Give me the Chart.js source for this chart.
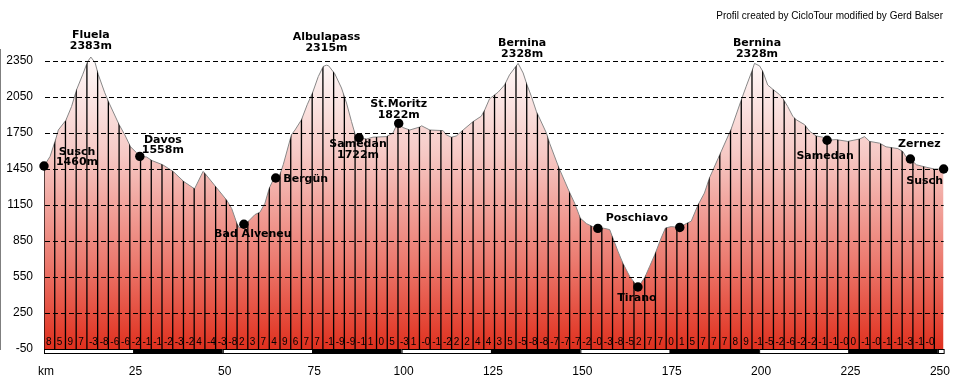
<!DOCTYPE html>
<html>
<head>
<meta charset="utf-8">
<script src="https://cdn.jsdelivr.net/npm/chart.js@4.4.1/dist/chart.umd.min.js"></script>
<style>
html, body { margin: 0; padding: 0; background: #fff; }
canvas { display: block; }
</style>
</head>
<body>
<canvas id="profile" width="955" height="375"></canvas>
<script>
// route profile (km, m)
const profileKm = [0, 1.7, 3.3, 4.0, 6.1, 7.7, 9.1, 10.8, 12.2, 13.1, 14.3, 15.2, 17.0, 18.2, 21.0, 22.6, 24.2, 25.9, 26.8, 28.7,
  30.2, 33.2, 36.1, 39.1, 42.1, 44.5, 45.1, 48.1, 51.1, 52.5, 53.9, 54.6, 55.3, 55.9, 57.1, 59.0, 60.4, 61.8, 63.0, 64.1,
  64.8, 66.0, 66.9, 69.2, 70.2, 72.0, 73.6, 75.1, 76.7, 78.1, 79.0, 79.6, 81.3, 83.2, 84.6, 86.0, 87.2, 88.1, 90.2, 92.0,
  95.8, 97.6, 98.6, 99.2, 100.4, 102.3, 105.1, 105.6, 107.9, 111.6, 112.5, 113.9, 115.3, 117.2, 120.0, 122.3, 123.3, 124.6, 127.0, 128.8,
  130.2, 131.2, 132.6, 134.0, 135.1, 136.3, 137.7, 140.5, 141.4, 144.0, 147.0, 148.4, 150.0, 151.7, 153.4, 154.9, 156.3, 158.2, 159.1, 160.5,
  161.9, 163.8, 165.2, 166.1, 166.6, 168.0, 169.4, 170.8, 172.6, 173.8, 175.4, 177.8, 179.6, 181.0, 182.9, 184.7, 186.1, 189.0, 192.2, 195.0,
  196.4, 198.1, 198.7, 200.1, 201.0, 202.4, 203.8, 205.7, 206.6, 208.0, 209.4, 210.4, 212.7, 214.1, 216.0, 217.8, 219.0, 221.5, 224.8, 228.1,
  229.5, 230.9, 233.7, 235.5, 238.8, 240.2, 241.1, 242.3, 244.0, 246.7, 249.0, 251.6];
const profileElev = [1475, 1555, 1700, 1775, 1855, 1970, 2110, 2235, 2345, 2383, 2335, 2235, 2085, 2000, 1820, 1735, 1635, 1585, 1555, 1550,
  1520, 1485, 1430, 1345, 1285, 1430, 1410, 1300, 1190, 1120, 1000, 960, 965, 990, 1013, 1070, 1090, 1165, 1290, 1360,
  1375, 1405, 1485, 1735, 1775, 1860, 1985, 2085, 2220, 2305, 2315, 2310, 2245, 2125, 2000, 1845, 1720, 1710, 1700, 1715,
  1720, 1750, 1815, 1830, 1795, 1775, 1800, 1810, 1775, 1770, 1735, 1715, 1725, 1775, 1845, 1890, 1945, 2035, 2090, 2150,
  2235, 2275, 2330, 2250, 2150, 2055, 1930, 1750, 1665, 1460, 1255, 1165, 1040, 995, 970, 955, 958, 945, 875, 765,
  665, 555, 500, 467, 485, 545, 640, 735, 875, 958, 970, 963, 995, 1015, 1150, 1250, 1375, 1570, 1785, 2025,
  2140, 2275, 2330, 2310, 2265, 2150, 2115, 2070, 2040, 1970, 1890, 1860, 1820, 1765, 1725, 1715, 1690, 1695, 1680, 1700,
  1720, 1680, 1665, 1635, 1620, 1595, 1550, 1533, 1485, 1465, 1450, 1450];

// towns with a dot
const placeLabels = [['Susch', '1460m'], ['Davos', '1558m'], ['Bad Alveneu'], ['Bergün'], ['Samedan', '1722m'], ['St.Moritz', '1822m'],
  ['Poschiavo'], ['Tirano'], [], ['Samedan'], ['Zernez'], ['Susch']];
const placeKm = [0, 26.8, 55.9, 64.8, 88.1, 99.2, 154.9, 166.1, 177.8, 219.0, 242.3, 251.6];
const placeElev = [1475, 1555, 990, 1375, 1710, 1830, 955, 467, 963, 1690, 1533, 1450];

// passes
const peakLabels = [['Fluela', '2383m'], ['Albulapass', '2315m'], ['Bernina', '2328m'], ['Bernina', '2328m']];
const peakKm = [13.1, 79.0, 132.6, 198.7];
const peakElev = [2383, 2315, 2330, 2330];

// gradient % per 3 km segment
const segKm = 3;
const gradeLabels = ['8', '5', '9', '7', '-3', '-8', '-6', '-6', '-2', '-1', '-1', '-2', '-3', '-2', '4', '-4', '-3', '-8', '2', '3',
  '7', '4', '9', '6', '7', '7', '-1', '-9', '-9', '-1', '1', '0', '5', '-3', '1', '-0', '-1', '-2', '2', '2',
  '4', '4', '3', '5', '-5', '-8', '-8', '-7', '-7', '-7', '-2', '-0', '-3', '-8', '-5', '2', '7', '7', '0', '1',
  '5', '7', '7', '7', '8', '9', '-1', '-5', '-2', '-6', '-2', '-2', '-1', '-1', '-0', '0', '-1', '-0', '-1', '-1',
  '-3', '-1', '-0'];

const yTicks = [-50, 250, 550, 850, 1150, 1450, 1750, 2050, 2350];
const xTicks = [0, 25, 50, 75, 100, 125, 150, 175, 200, 225, 250];

// label placement (px, relative to dot / summit)
const placeOffsets = [[33, -14], [23, -16.5], [9, 9.5], [30, 1], [-1, 6.5], [0, -19], [39, -10], [-1, 11], [0, 0], [-2, 16], [9, -15], [-19, 12]];
const peakOffsets = [[0, -22], [0, -28.5], [4, -20.7], [2.5, -20.7]];

const lastKm = profileKm[profileKm.length - 1];
const tickFont = { family: '"Liberation Sans", Arial, sans-serif', size: 12 };

const decor = {
  id: 'decor',
  afterDatasetDraw(chart, args) {
    if (args.index !== 0) return;
    const { ctx, chartArea, scales: { x, y } } = chart;
    const pts = args.meta.data;
    const base = y.getPixelForValue(yTicks[0]);
    // vertical segment lines, clipped to the profile
    ctx.save();
    ctx.beginPath();
    ctx.moveTo(pts[0].x, base);
    pts.forEach(p => ctx.lineTo(p.x, p.y));
    ctx.lineTo(pts[pts.length - 1].x, base);
    ctx.closePath();
    ctx.clip();
    ctx.strokeStyle = '#000';
    ctx.lineWidth = 1.3;
    for (let k = 0; k * segKm < lastKm; k++) {
      const px = x.getPixelForValue(k * segKm);
      ctx.beginPath();
      ctx.moveTo(px, base);
      ctx.lineTo(px, chartArea.top);
      ctx.stroke();
    }
    ctx.restore();
    ctx.save();
    ctx.font = '10px "Liberation Sans", Arial, sans-serif';
    ctx.fillStyle = '#000';
    ctx.textAlign = 'left';
    ctx.textBaseline = 'middle';
    gradeLabels.forEach((g, k) => ctx.fillText(g, x.getPixelForValue(k * segKm) + 2, base - 7));
    ctx.restore();
  },
  afterDraw(chart) {
    const { ctx, chartArea, scales: { x, y } } = chart;
    ctx.save();
    // km bar
    const b = chartArea.bottom;
    ctx.strokeStyle = '#000';
    ctx.lineWidth = 1;
    for (let i = 0; xTicks[i] < lastKm; i++) {
      const x0 = x.getPixelForValue(xTicks[i]);
      const x1 = x.getPixelForValue(Math.min(xTicks[i] + 25, lastKm));
      ctx.fillStyle = i % 2 ? '#000' : '#fff';
      ctx.fillRect(x0, b, x1 - x0, 4);
      ctx.strokeRect(x0 + 0.5, b + 0.5, x1 - x0, 4);
    }
    ctx.fillStyle = '#000';
    ctx.font = 'bold 11px "DejaVu Sans", sans-serif';
    ctx.textAlign = 'center';
    ctx.textBaseline = 'middle';
    placeLabels.forEach((lines, i) => {
      const px = x.getPixelForValue(placeKm[i]) + placeOffsets[i][0];
      const py = y.getPixelForValue(placeElev[i]) + placeOffsets[i][1];
      lines.forEach((t, j) => ctx.fillText(t, px, py + j * 10.5));
    });
    peakLabels.forEach((lines, i) => {
      const px = x.getPixelForValue(peakKm[i]) + peakOffsets[i][0];
      const py = y.getPixelForValue(peakElev[i]) + peakOffsets[i][1];
      lines.forEach((t, j) => ctx.fillText(t, px, py + j * 11));
    });
    ctx.font = '10px "Liberation Sans", Arial, sans-serif';
    ctx.textAlign = 'right';
    ctx.fillText('Profil created by CicloTour modified by Gerd Balser', 943, 16);
    ctx.restore();
  }
};

new Chart(document.getElementById('profile'), {
  type: 'line',
  data: {
    datasets: [{
      data: profileKm.map((k, i) => ({ x: k, y: profileElev[i] })),
      borderColor: '#888',
      borderWidth: 1,
      pointRadius: 0,
      tension: 0,
      fill: 'start',
      order: 2,
      backgroundColor: c => {
        const a = c.chart.chartArea;
        if (!a) return '#f0a0a0';
        const g = c.chart.ctx.createLinearGradient(0, a.top, 0, a.bottom);
        g.addColorStop(0, '#ffffff');
        g.addColorStop(0.35, '#f6c9c5');
        g.addColorStop(0.7, '#ec7c71');
        g.addColorStop(1, '#e0301e');
        return g;
      }
    }, {
      data: placeKm.map((k, i) => ({ x: k, y: placeElev[i] })),
      showLine: false,
      pointRadius: 4.7,
      pointBackgroundColor: '#000',
      pointBorderWidth: 0,
      clip: false,
      order: 1
    }]
  },
  options: {
    responsive: false,
    animation: false,
    devicePixelRatio: 1,
    layout: { padding: { top: 49, right: 11, left: 0, bottom: 0 } },
    plugins: { legend: { display: false }, tooltip: { enabled: false } },
    scales: {
      x: {
        type: 'linear',
        min: 0,
        max: lastKm,
        afterBuildTicks: s => { s.ticks = xTicks.map(v => ({ value: v })); },
        afterFit: s => { s.height = 26; },
        grid: { display: false },
        border: { display: false },
        ticks: {
          color: '#000', font: tickFont, padding: 7, labelOffset: 2, maxRotation: 0,
          callback: v => v === 0 ? 'km' : String(v)
        }
      },
      y: {
        min: -50,
        max: 2450,
        afterBuildTicks: s => { s.ticks = yTicks.map(v => ({ value: v })); },
        afterFit: s => { s.width = 44; },
        grid: { color: '#000', lineWidth: 1, drawTicks: false, z: 1 },
        border: { display: true, color: '#000', width: 1, dash: [5, 3] },
        ticks: { color: '#000', font: tickFont, padding: 11, callback: v => String(v) }
      }
    }
  },
  plugins: [decor]
});
</script>
</body>
</html>
